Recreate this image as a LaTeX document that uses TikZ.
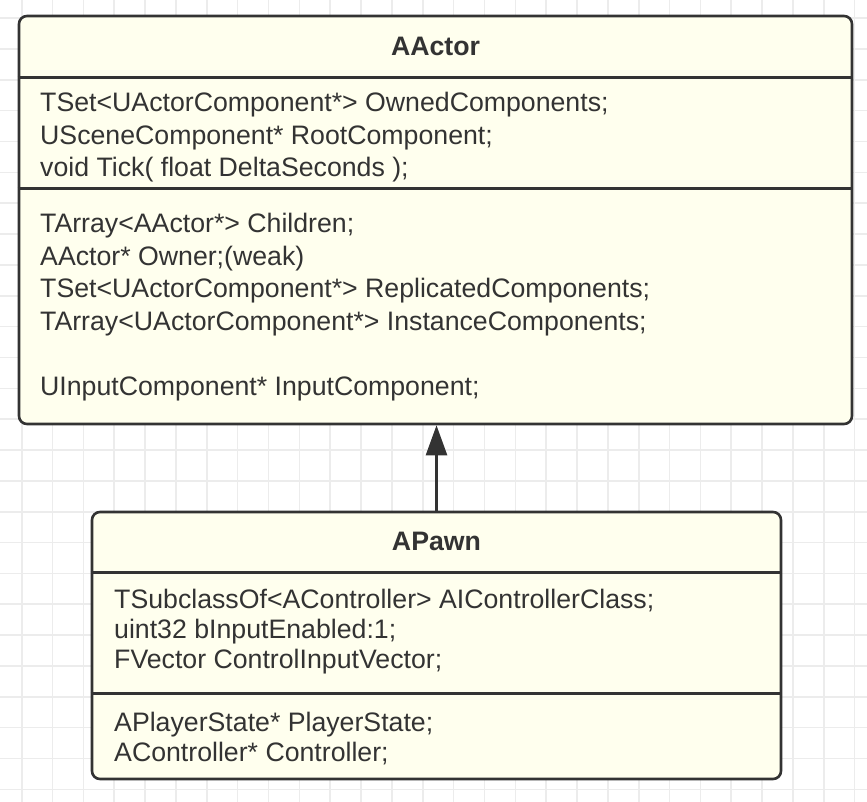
\documentclass[tikz,border=0pt]{standalone}
\usepackage{fontspec}
\setmainfont{Liberation Sans}
\usetikzlibrary{
		arrows.meta,
		positioning
	}
\definecolor{umlfill}{RGB}{255,255,238}
\definecolor{umlline}{RGB}{51,51,51}
\definecolor{gridline}{RGB}{236,236,236}
\tikzset{
		>={Triangle[length=30pt,width=21pt]},
		classbox/.style={draw=umlline, line width=2.6pt, fill=umlfill,
			rounded corners=8pt, inner sep=0pt},
		divider/.style={draw=umlline, line width=2.6pt},
		classname/.style={inner sep=0pt, text=umlline,
			font=\fontsize{26.7}{32}\selectfont\bfseries},
		member/.style={anchor=base west, inner sep=0pt, text=umlline,
			font=\fontsize{26.7}{32}\selectfont}
	}
\begin{document}
\begin{tikzpicture}[x=1pt,y=-1pt]
          \useasboundingbox (0,0) rectangle (867,802);
          \clip (0,0) rectangle (867,802);

          % background grid
          \foreach \gx in {0,...,27}
            \draw[gridline, line width=1.6pt] ({21.7+30.85*\gx},0) -- ++(0,802);
          \foreach \gy in {0,...,25}
            \draw[gridline, line width=1.6pt] (0,{18.1+30.85*\gy}) -- ++(867,0);

          % AActor
          \node[classbox, minimum width=833pt, minimum height=408pt] (actor) at (435.5,220) {};
          \draw[divider] ([yshift=-63pt]actor.north west) -- ([yshift=-63pt]actor.north east);
          \draw[divider] ([yshift=-174pt]actor.north west) -- ([yshift=-174pt]actor.north east);
          \node[classname] (actorname) at ([yshift=-32pt]actor.north) {AActor};

          \node[member] (owned) at (40,112) {TSet<UActorComponent*> OwnedComponents;};
          \node[member] (root) at (40,144.5) {USceneComponent* RootComponent;};
          \node[member] (tick) at (40,177) {void Tick( float DeltaSeconds );};

          \node[member] (children) at (40,233) {TArray<AActor*> Children;};
          \node[member] (owner) at (40,265.5) {AActor* Owner;(weak)};
          \node[member] (replicated) at (40,298) {TSet<UActorComponent*> ReplicatedComponents;};
          \node[member] (instance) at (40,330.5) {TArray<UActorComponent*> InstanceComponents;};
          \node[member] (input) at (40,395.5) {UInputComponent* InputComponent;};

          % APawn
          \node[classbox, minimum width=689pt, minimum height=267pt] (pawn) at (436.5,645.5) {};
          \draw[divider] ([yshift=-62pt]pawn.north west) -- ([yshift=-62pt]pawn.north east);
          \draw[divider] ([yshift=-183pt]pawn.north west) -- ([yshift=-183pt]pawn.north east);
          \node[classname] (pawnname) at ([yshift=-31pt]pawn.north) {APawn};

          \node[member] (aiclass) at (114,608) {TSubclassOf<AController> AIControllerClass;};
          \node[member] (enabled) at (114,638) {uint32 bInputEnabled:1;};
          \node[member] (inputvec) at (114,668) {FVector ControlInputVector;};

          \node[member] (playerstate) at (114,731) {APlayerState* PlayerState;};
          \node[member] (controller) at (114,761) {AController* Controller;};

          % inheritance
          \draw[->, divider] (pawn.north) -- (pawn.north |- actor.south);

\end{tikzpicture}
\end{document}
